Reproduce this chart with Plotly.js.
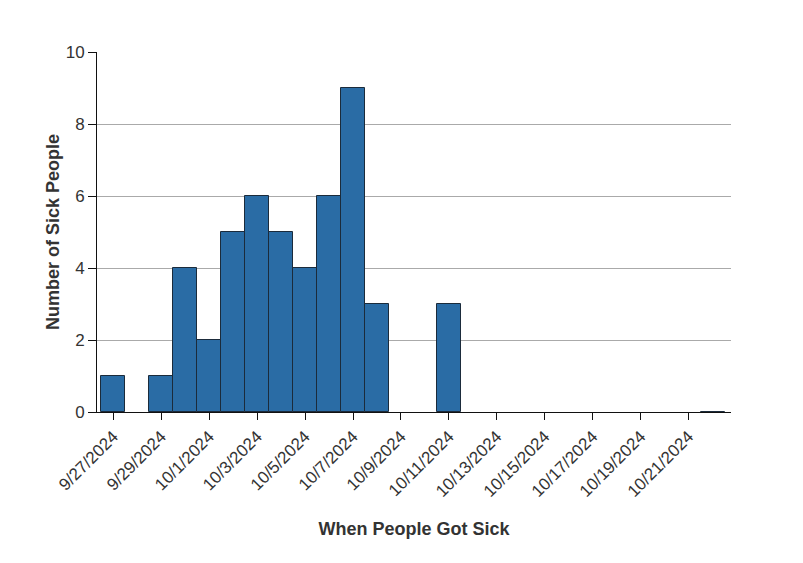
<!DOCTYPE html>
<html>
<head>
<meta charset="utf-8">
<script src="https://cdn.plot.ly/plotly-3.0.1.min.js"></script>
<style>
  body { margin: 0; background: #fff; }
  #plot { width: 803px; height: 563px; }
</style>
</head>
<body>
<div id="plot"></div>
<script>
// onset dates (one bar per day that has a record)
var onsetDates = [
    '2024-09-27', '2024-09-29', '2024-09-30',
    '2024-10-01', '2024-10-02', '2024-10-03', '2024-10-04',
    '2024-10-05', '2024-10-06', '2024-10-07', '2024-10-08',
    '2024-10-11', '2024-10-22'
];

// number of sick people per day
var sickCounts = [1, 1, 4, 2, 5, 6, 5, 4, 6, 9, 3, 3, 0];

var yTicks = [0, 2, 4, 6, 8, 10];

function createEpiCurve() {

    var trace1 = {
        x: onsetDates,
        y: sickCounts,
        type: 'bar',
        width: 86400000, // one day
        marker: {
            color: 'rgb(42,108,165)',
            line: {color: '#1b2b3b', width: 1}
        },
        hoverinfo: 'x+y'
    };

    var data = [trace1];

    var layout = {
        width: 803,
        height: 563,
        showlegend: false,
        paper_bgcolor: '#fff',
        plot_bgcolor: '#fff',
        font: {family: 'Liberation Sans, Arial, sans-serif', size: 16, color: '#333'},
        bargap: 0,
        xaxis: {
            type: 'date',
            range: ['2024-09-26 07:40', '2024-10-22 18:30'],
            tick0: '2024-09-27',
            dtick: 172800000, // 2 days
            tickformat: '%-m/%-d/%Y',
            tickangle: -45,
            ticks: 'outside',
            ticklen: 7,
            tickcolor: '#111',
            tickfont: {size: 17, color: '#333'},
            showline: true,
            linecolor: '#111',
            linewidth: 1,
            showgrid: false,
            zeroline: false,
            title: {
                text: '<b>When People Got Sick</b>',
                font: {size: 18, color: '#333'},
                standoff: 22
            }
        },
        yaxis: {
            range: [0, 10],
            tickvals: yTicks,
            ticks: 'outside',
            ticklen: 8,
            tickcolor: '#111',
            tickfont: {size: 17, color: '#333'},
            showline: true,
            linecolor: '#111',
            linewidth: 1,
            showgrid: true,
            gridcolor: '#aaa',
            gridwidth: 1,
            zeroline: false,
            title: {
                text: '<b>Number of Sick People</b>',
                font: {size: 18, color: '#333'},
                standoff: 1
            }
        },
        margin: {
            t: 52,  //top margin
            l: 97,  //left margin
            r: 72,  //right margin
            b: 151  //bottom margin
        }
    };

    Plotly.newPlot('plot', data, layout, {displayModeBar: false});
}

createEpiCurve();
</script>
</body>
</html>
